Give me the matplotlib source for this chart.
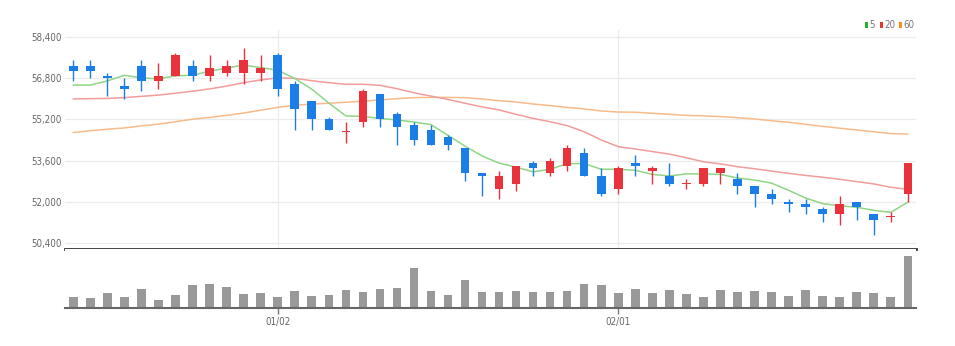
import numpy as np
import matplotlib
matplotlib.use("Agg")
import matplotlib.pyplot as plt
from matplotlib.patches import Rectangle
from matplotlib.ticker import FuncFormatter

# Daily candles (50 sessions)
opens = [57300, 57300, 56900, 56500, 57300, 56700, 56900, 57300, 56900, 57000,
         57000, 57000, 57700, 56600, 55900, 55200, 54700, 55100, 56200, 55400,
         55000, 54800, 54500, 54100, 53100, 52500, 52700, 53500, 53100, 53400,
         53900, 53000, 52500, 53500, 53200, 53000, 52700, 52700, 53100, 52900,
         52600, 52300, 52000, 51900, 51700, 51500, 52000, 51500, 51400, 52300]
highs = [57500, 57500, 57000, 56800, 57500, 57400, 57800, 57500, 57700, 57500,
         58000, 57700, 57800, 56700, 55900, 55300, 55100, 56400, 56200, 55500,
         55100, 55000, 54600, 54100, 53100, 53200, 53400, 53600, 53700, 54200,
         54100, 53300, 53400, 53800, 53400, 53500, 52900, 53300, 53300, 53100,
         52600, 52500, 52100, 52100, 51800, 52200, 52000, 51500, 51600, 53500]
lows = [56700, 56800, 56100, 56000, 56300, 56400, 56900, 56700, 56700, 56900,
        56600, 56700, 56100, 54800, 54800, 54800, 54300, 54900, 54900, 54200,
        54200, 54200, 54000, 52800, 52200, 52100, 52400, 53000, 53000, 53200,
        53000, 52200, 52300, 53000, 52700, 52600, 52500, 52600, 52700, 52300,
        51800, 51900, 51600, 51500, 51200, 51100, 51300, 50700, 51200, 52000]
closes = [57100, 57100, 56800, 56400, 56700, 56900, 57700, 56900, 57200, 57300,
          57500, 57200, 56400, 55600, 55200, 54800, 54700, 56300, 55200, 54900,
          54400, 54200, 54200, 53100, 53000, 53000, 53400, 53300, 53600, 54100,
          53000, 52300, 53300, 53400, 53300, 52700, 52700, 53300, 53300, 52600,
          52300, 52100, 51900, 51800, 51500, 51900, 51800, 51300, 51400, 53500]
prev_closes = [57100, 56000, 55300, 57200]  # 4 sessions before the window, for MA5

# Volume (thousand shares)
volumes = [110, 100, 150, 110, 190, 80, 130, 224, 240, 207,
           134, 144, 110, 167, 120, 130, 177, 160, 190, 197,
           397, 167, 130, 277, 160, 160, 167, 160, 154, 167,
           234, 230, 144, 184, 147, 177, 134, 104, 177, 154,
           167, 154, 120, 177, 120, 110, 154, 147, 110, 517]

# Longer moving averages
ma20 = [56000, 56010, 56020, 56050, 56100, 56150, 56220, 56300, 56390, 56500,
        56630, 56740, 56820, 56800, 56710, 56630, 56570, 56570, 56530, 56400,
        56240, 56110, 55980, 55830, 55690, 55570, 55400, 55240, 55110, 54960,
        54720, 54400, 54140, 54050, 53950, 53850, 53710, 53550, 53470, 53360,
        53280, 53190, 53100, 53020, 52950, 52870, 52780, 52690, 52560, 52480]
ma60 = [54690, 54760, 54820, 54870, 54950, 55020, 55110, 55210, 55280, 55360,
        55450, 55560, 55670, 55750, 55800, 55830, 55870, 55910, 55960, 56010,
        56050, 56060, 56060, 56050, 56000, 55930, 55880, 55800, 55740, 55670,
        55610, 55530, 55490, 55480, 55440, 55400, 55360, 55340, 55310, 55270,
        55220, 55150, 55090, 55010, 54930, 54860, 54790, 54720, 54650, 54630]

date_ticks = [12, 32]
date_labels = ["01/02", "02/01"]
price_ticks = [50400, 52000, 53600, 55200, 56800, 58400]

UP = "#e8323c"
DOWN = "#1b7ee6"

plt.rcParams["font.family"] = ["Liberation Sans Narrow", "DejaVu Sans"]
plt.rcParams["font.stretch"] = "condensed"

o = np.array(opens)
h = np.array(highs)
l = np.array(lows)
c = np.array(closes)
x = np.arange(len(c))

# MA5 from closes
allc = np.concatenate([prev_closes, c])
ma5 = np.convolve(allc, np.ones(5) / 5, mode="valid")

fig = plt.figure(figsize=(9.55, 3.46), dpi=100)
W, H = 955, 346
left = 64.8 / W
width = (916.3 - 64.8) / W
ax = fig.add_axes([left, 1 - 249.3 / H, width, (249.3 - 30) / H])
axv = fig.add_axes([left, 1 - 307.7 / H, width, (307.7 - 249.3) / H])

# price panel: moving averages under the candles
ax.plot(x, ma60, color="#f7bb8c", lw=1.1, zorder=2)
ax.plot(x, ma20, color="#f29c9c", lw=1.1, zorder=2)
ax.plot(x, ma5, color="#8fd585", lw=1.1, zorder=2)

colors = [UP if cc >= oo else DOWN for oo, cc in zip(o, c)]
ax.vlines(x, l, h, colors=colors, linewidth=1.0, zorder=3)
body_low = np.minimum(o, c)
body_h = np.maximum(np.abs(c - o), 40)
ax.bar(x, body_h, bottom=body_low, width=0.5, color=colors, linewidth=0, zorder=4)

ax.set_xlim(-0.5, len(c) - 0.5)
ax.set_ylim(50143, 58684)
ax.set_yticks(price_ticks)
ax.yaxis.set_major_formatter(FuncFormatter(lambda v, p: f"{int(v):,}"))
ax.set_xticks(date_ticks)
ax.set_xticklabels([])
ax.tick_params(axis="both", length=0, labelsize=7, colors="#666666", pad=2)
ax.grid(True, color="#ececec", lw=0.9, zorder=0)
for s in ["top", "right", "left"]:
    ax.spines[s].set_visible(False)
ax.spines["bottom"].set_color("#333333")
ax.spines["bottom"].set_linewidth(2)

# volume panel
axv.bar(x, volumes, width=0.5, color="#999999", linewidth=0)
axv.set_xlim(-0.5, len(c) - 0.5)
axv.set_ylim(0, max(volumes) * 58.4 / 51.7)
axv.set_yticks([])
axv.set_xticks(date_ticks)
axv.set_xticklabels(date_labels)
axv.tick_params(axis="x", length=4, width=1, color="#777777", labelsize=7,
                labelcolor="#666666", pad=3)
for s in ["top", "right", "left"]:
    axv.spines[s].set_visible(False)
axv.spines["bottom"].set_color("#666666")
axv.spines["bottom"].set_linewidth(1.5)

# legend: colored squares + period labels
legend = [(865, "#22b322", "5"), (880, "#ee3333", "20"), (898.5, "#ff8c1a", "60")]
for px, col, lab in legend:
    fig.add_artist(Rectangle((px / W, 1 - 27.5 / H), 3 / W, 5.5 / H,
                             transform=fig.transFigure, color=col, lw=0))
    fig.text((px + 4.5) / W, 1 - 24.8 / H, lab, fontsize=7, color="#777777",
             va="center", ha="left")

fig.savefig("out.png", dpi=100)
